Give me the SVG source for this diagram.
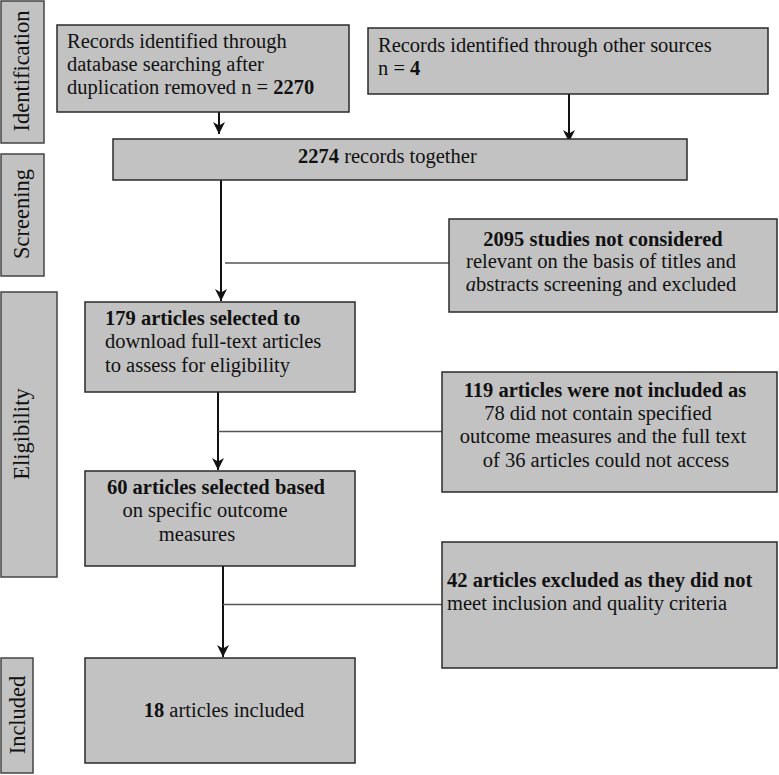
<svg xmlns="http://www.w3.org/2000/svg" width="779" height="775" viewBox="0 0 779 775">
<style>
.box{fill:#c2c2c2;stroke:#2a2a2a;stroke-width:1.5}
.side{fill:#c2c2c2;stroke:#444;stroke-width:1.5}
text{font-family:"Liberation Serif","DejaVu Serif",serif;font-size:20.5px;fill:#111}
.s{font-size:22.5px}
.b{font-weight:bold}
.c{text-anchor:middle}
.arrow{stroke:#111;stroke-width:2;fill:none;marker-end:url(#ah)}
.tie{stroke:#555;stroke-width:1.3;fill:none}
</style>
<defs>
<marker id="ah" viewBox="0 0 10 10" refX="10" refY="5" markerWidth="6" markerHeight="6" markerUnits="strokeWidth" orient="auto">
<path d="M0,0 L10,5 L0,10 L3,5 Z" fill="#111"/>
</marker>
</defs>
<rect width="779" height="775" fill="#fff"/>

<g id="side-identification"><rect class="side" x="1" y="1" width="43" height="142"/><text class="c s" transform="translate(29,71) rotate(-90)">Identification</text></g>
<g id="side-screening"><rect class="side" x="1" y="154" width="43" height="122"/><text class="c s" transform="translate(29,214) rotate(-90)">Screening</text></g>
<g id="side-eligibility"><rect class="side" x="1" y="292" width="56" height="285"/><text class="c s" transform="translate(29,434) rotate(-90)">Eligibility</text></g>
<g id="side-included"><rect class="side" x="1" y="658" width="32" height="115"/><text class="c s" transform="translate(25,715) rotate(-90)">Included</text></g>

<g id="connectors">
<line class="arrow" x1="219" y1="112" x2="219" y2="134"/>
<line class="arrow" x1="569" y1="94" x2="569" y2="142"/>
<line class="arrow" x1="221" y1="180" x2="221" y2="301"/>
<line class="tie" x1="225" y1="263" x2="449" y2="263"/>
<line class="arrow" x1="218" y1="392" x2="218" y2="470"/>
<line class="tie" x1="218" y1="431.5" x2="442" y2="431.5"/>
<line class="arrow" x1="223" y1="554" x2="223" y2="657"/>
<line class="tie" x1="223" y1="604.5" x2="442" y2="604.5"/>
</g>

<g id="n-db"><rect class="box" x="57" y="25" width="292" height="87"/>
<text x="67" y="48">Records identified through</text>
<text x="67" y="71">database searching after</text>
<text x="67" y="94">duplication removed n = <tspan class="b">2270</tspan></text></g>

<g id="n-other"><rect class="box" x="368" y="28" width="400" height="66"/>
<text x="378" y="52">Records identified through other sources</text>
<text x="378" y="75">n = <tspan class="b">4</tspan></text></g>

<g id="n-2274"><rect class="box" x="113" y="139" width="574" height="41"/>
<text x="298" y="163"><tspan class="b">2274</tspan> records together</text></g>

<g id="n-2095"><rect class="box" x="449" y="219" width="328" height="93"/>
<text class="c b" x="603" y="246">2095 studies not considered</text>
<text class="c" x="601" y="268">relevant on the basis of titles and</text>
<text class="c" x="601" y="291"><tspan font-style="italic">a</tspan>bstracts screening and excluded</text></g>

<g id="n-179"><rect class="box" x="85" y="302" width="270" height="90"/>
<text class="b" x="105" y="325">179 articles selected to</text>
<text x="105" y="348">download full-text articles</text>
<text x="105" y="372">to assess for eligibility</text></g>

<g id="n-119"><rect class="box" x="442" y="372" width="335" height="120"/>
<text class="c b" x="605" y="397">119 articles were not included as</text>
<text class="c" x="598" y="420">78 did not contain specified</text>
<text class="c" x="603" y="443">outcome measures and the full text</text>
<text class="c" x="606" y="467">of 36 articles could not access</text></g>

<g id="n-60"><rect class="box" x="85" y="471" width="270" height="95"/>
<text class="c b" x="216" y="494">60 articles selected based</text>
<text class="c" x="205" y="517">on specific outcome</text>
<text class="c" x="197" y="541">measures</text></g>

<g id="n-42"><rect class="box" x="442" y="542" width="335" height="126"/>
<text class="b" x="447" y="587">42 articles excluded as they did not</text>
<text x="447" y="610">meet inclusion and quality criteria</text></g>

<g id="n-18"><rect class="box" x="85" y="658" width="270" height="105"/>
<text class="c" x="224" y="717"><tspan class="b">18</tspan> articles included</text></g>
</svg>
